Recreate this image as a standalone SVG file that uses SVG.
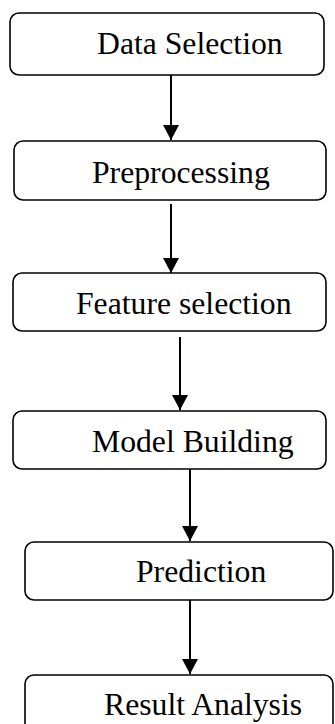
<svg xmlns="http://www.w3.org/2000/svg" width="335" height="724" viewBox="0 0 335 724">
  <defs>
    <marker id="arrow" markerUnits="userSpaceOnUse" markerWidth="16" markerHeight="16" viewBox="0 0 15 16" refX="15" refY="8" orient="auto">
      <path d="M0,0 L15,8 L0,16 Z" fill="#000"/>
    </marker>
    <style>
      .box { fill: #fff; stroke: #000; stroke-width: 1.6; }
      .label { font-family: "Liberation Serif", "Times New Roman", serif; font-size: 31.7px; fill: #000; }
      .conn { stroke: #000; stroke-width: 2; fill: none; marker-end: url(#arrow); }
    </style>
  </defs>

  <rect width="335" height="724" fill="#fff"/>

  <g id="connectors">
    <line class="conn" x1="171" y1="75" x2="171" y2="140"/>
    <line class="conn" x1="171" y1="204" x2="171" y2="273"/>
    <line class="conn" x1="180" y1="337" x2="180" y2="410"/>
    <line class="conn" x1="190" y1="469" x2="190" y2="541"/>
    <line class="conn" x1="190" y1="600" x2="190" y2="674"/>
  </g>

  <g id="data-selection">
    <rect class="box" x="10" y="13" width="314" height="62" rx="9"/>
    <text class="label" x="97" y="54">Data Selection</text>
  </g>
  <g id="preprocessing">
    <rect class="box" x="14" y="141" width="312" height="59" rx="9"/>
    <text class="label" x="92" y="183">Preprocessing</text>
  </g>
  <g id="feature-selection">
    <rect class="box" x="13" y="273" width="313" height="58" rx="9"/>
    <text class="label" x="76" y="314">Feature selection</text>
  </g>
  <g id="model-building">
    <rect class="box" x="13" y="411" width="313" height="58" rx="9"/>
    <text class="label" x="92" y="452">Model Building</text>
  </g>
  <g id="prediction">
    <rect class="box" x="25" y="542" width="308" height="58" rx="9"/>
    <text class="label" x="136" y="582">Prediction</text>
  </g>
  <g id="result-analysis">
    <rect class="box" x="25" y="675" width="308" height="60" rx="9"/>
    <text class="label" x="104" y="715">Result Analysis</text>
  </g>
</svg>
